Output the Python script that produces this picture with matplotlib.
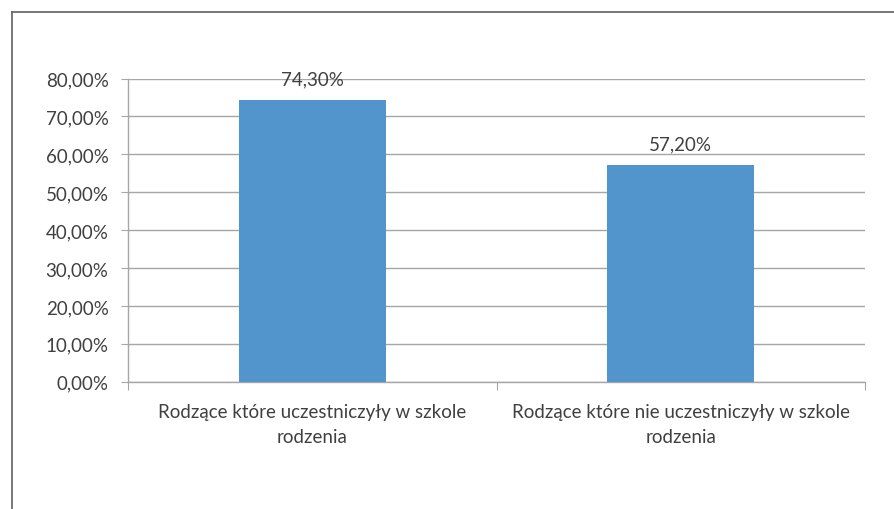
import matplotlib
matplotlib.use("Agg")
import matplotlib.pyplot as plt
from matplotlib.ticker import FuncFormatter, MultipleLocator
from matplotlib.lines import Line2D

categories = ["Rodzące które uczestniczyły w szkole\nrodzenia",
              "Rodzące które nie uczestniczyły w szkole\nrodzenia"]
values = [74.30, 57.20]
value_labels = ["74,30%", "57,20%"]

plt.rcParams['font.family'] = ['Lato', 'DejaVu Sans']

W, H = 894, 510
fig = plt.figure(figsize=(W / 100, H / 100), dpi=100)
ax_bottom, ax_top = 382.7, 79.5
ax = fig.add_axes([128 / W, 1 - ax_bottom / H, (865 - 128) / W, (ax_bottom - ax_top) / H])

bar_color = '#5294CC'
grid_color = '#A6A6A6'
text_color = '#404040'

x = list(range(len(categories)))
ax.bar(x, values, width=0.40, color=bar_color, zorder=3)
ax.set_xlim(-0.5, len(categories) - 0.5)
ax.set_ylim(0, 80)
ax.yaxis.set_major_locator(MultipleLocator(10))
ax.yaxis.set_major_formatter(FuncFormatter(lambda v, p: f"{v:.2f}".replace('.', ',') + "%"))
ax.grid(axis='y', color=grid_color, linewidth=1.0, zorder=0)

for s in ['top', 'right']:
    ax.spines[s].set_visible(False)
for s in ['left', 'bottom']:
    ax.spines[s].set_color(grid_color)
    ax.spines[s].set_linewidth(1.0)

ax.tick_params(axis='y', length=5, color=grid_color, labelsize=13.5, labelcolor=text_color, pad=9)
ax.set_xticks([-0.5, 0.5, 1.5])
ax.set_xticklabels([])
ax.tick_params(axis='x', length=6, color=grid_color, direction='out')

ax_h = ax_bottom - ax_top
line_baselines = [418, 443]
for i, c in enumerate(categories):
    for j, line in enumerate(c.split('\n')):
        y = -(line_baselines[j] - ax_bottom) / ax_h
        ax.text(i, y, line, transform=ax.get_xaxis_transform(), ha='center', va='baseline',
                fontsize=13.5, color=text_color)

for i, (v, lbl) in enumerate(zip(values, value_labels)):
    ax.annotate(lbl, (i, v), xytext=(0, 11), textcoords='offset points',
                ha='center', va='baseline', fontsize=13.5, color=text_color)

# outer frame lines (top and left)
fig.add_artist(Line2D([12 / W, 1], [1 - 13 / H, 1 - 13 / H], color='#606060', linewidth=1.2))
fig.add_artist(Line2D([12 / W, 12 / W], [0, 1 - 13 / H], color='#606060', linewidth=1.2))

fig.savefig("out.png", dpi=100)
